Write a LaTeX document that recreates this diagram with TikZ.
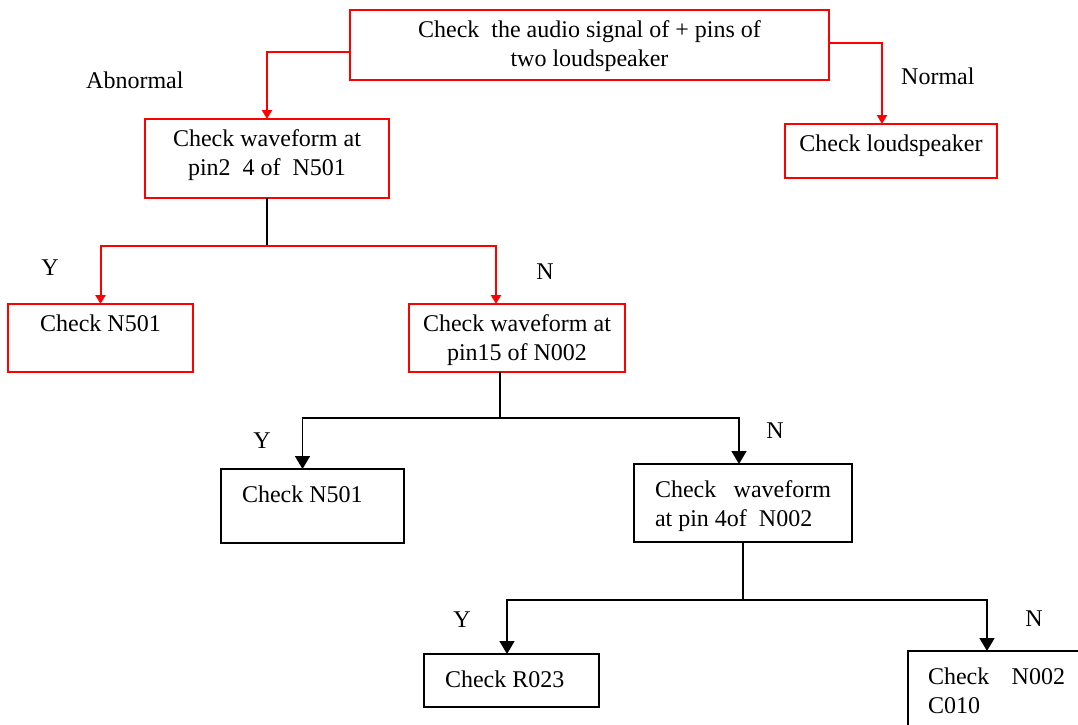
\documentclass[tikz,border=0pt]{standalone}
\usepackage{fontspec}
\setmainfont{Liberation Serif}
\usetikzlibrary{arrows.meta}
\begin{document}
\begin{tikzpicture}[x=1pt,y=-1pt,
  every node/.append style={font=\fontsize{24}{29}\selectfont},
  rbox/.style={draw=red, line width=2pt, inner sep=0pt, outer sep=0pt, anchor=north west},
  kbox/.style={draw=black, line width=1.6pt, inner sep=0pt, outer sep=0pt, anchor=north west},
  rl/.style={draw=red, line width=2pt},
  kl/.style={draw=black, line width=1.6pt},
  ra/.style={rl, -{Triangle[length=9pt,width=10pt]}},
  ka/.style={kl, -{Triangle[length=13pt,width=15pt]}},
  lab/.style={inner sep=0pt, anchor=base}
]
\useasboundingbox (0,0) rectangle (1078,724);
\clip (0,0) rectangle (1078,724);

% boxes
\node[rbox] (top) at (350,10) {\parbox[c][70pt][t]{479pt}{\centering\vspace*{6.7pt}\strut Check\ \ the audio signal of + pins of\\\strut two loudspeaker}};
\node[rbox] (b2) at (145,119) {\parbox[c][79pt][t]{244pt}{\centering\vspace*{6.7pt}\strut Check waveform at\\\strut pin2\ \ 4 of\ \ N501}};
\node[rbox] (loud) at (785,124) {\parbox[c][54pt][t]{212pt}{\centering\vspace*{6.7pt}\strut Check loudspeaker}};
\node[rbox] (n501a) at (8,304) {\parbox[c][68pt][t]{185pt}{\centering\vspace*{6.7pt}\strut Check N501}};
\node[rbox] (n002) at (409,304) {\parbox[c][68pt][t]{216pt}{\centering\vspace*{6.7pt}\strut Check waveform at\\\strut pin15 of N002}};
\node[kbox] (n501b) at (221,469) {\parbox[c][74pt][t]{183pt}{\raggedright\vspace*{13.2pt}\hspace*{21pt}\strut Check N501}};
\node[kbox] (w4) at (634,464) {\parbox[c][78pt][t]{218pt}{\raggedright\vspace*{13.2pt}\hspace*{21pt}\strut\makebox[176pt][s]{Check\hfill waveform}\\\hspace*{21pt}\strut at pin 4of\ \ N002}};
\node[kbox] (r023) at (424,654) {\parbox[c][53pt][t]{175pt}{\raggedright\vspace*{13.2pt}\hspace*{21pt}\strut Check R023}};
\node[kbox] (c010) at (908,651) {\parbox[c][120pt][t]{250pt}{\raggedright\vspace*{13.2pt}\hspace*{20pt}\strut\makebox[137pt][s]{Check\hfill N002}\\\hspace*{20pt}\strut C010}};

% labels
\node[lab, anchor=base west] (abn) at (86,88) {Abnormal};
\node[lab, anchor=base west] (nor) at (901,84) {Normal};
\node[lab] (y1) at (50,275) {Y};
\node[lab] (n1) at (545,279) {N};
\node[lab] (y2) at (262,448) {Y};
\node[lab] (n2) at (775,438) {N};
\node[lab] (y3) at (462,627) {Y};
\node[lab] (n3) at (1034,626) {N};

% junctions
\coordinate (j1) at (267,246);
\coordinate (j2) at (500,418);
\coordinate (j3) at (743,600);

% connectors
\draw[ra] ([yshift=-7pt]top.west) -| (b2.north);
\draw[ra] ([yshift=2pt]top.east) -| ([xshift=-9pt]loud.north);

\draw[kl] (b2.south) -- (j1);
\draw[ra] (j1) -| (n501a.north);
\draw[ra] (j1) -| ([xshift=-21pt]n002.north);

\draw[kl] ([xshift=-17pt]n002.south) -- (j2);
\draw[ka] (j2) -| ([xshift=-10pt]n501b.north);
\draw[ka] (j2) -| ([xshift=-4pt]w4.north);

\draw[kl] (w4.south) -- (j3);
\draw[ka] (j3) -| ([xshift=-4.5pt]r023.north);
\draw[ka] (j3) -| ([xshift=-46pt]c010.north);
\end{tikzpicture}
\end{document}
